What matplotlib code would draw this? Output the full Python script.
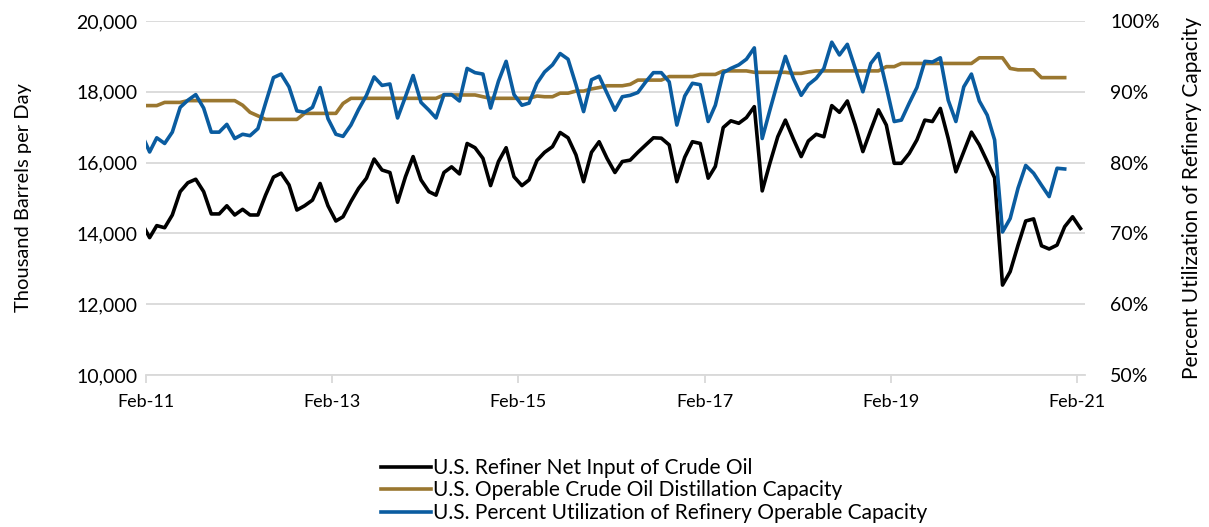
import numpy as np
import pandas as pd
import matplotlib
matplotlib.use("Agg")
import matplotlib.pyplot as plt
import matplotlib.dates as mdates
from matplotlib.ticker import FuncFormatter, FixedLocator

plt.rcParams['font.family'] = ['Lato', 'DejaVu Sans']

# monthly values, mid-month dates from Jan-11 (first point is clipped by the axis)
net_input = [14300, 13880, 14220, 14160, 14520, 15180, 15430, 15530, 15180, 14550,
             14550, 14780, 14520, 14680, 14520, 14520, 15080, 15590, 15700, 15370,
             14660, 14780, 14940, 15410, 14780, 14350, 14470, 14900, 15270, 15560,
             16100, 15790, 15720, 14880, 15600, 16170, 15510, 15180, 15080, 15720,
             15880, 15680, 16540, 16420, 16120, 15350, 16030, 16420, 15600, 15350,
             15510, 16060, 16290, 16450, 16850, 16700, 16220, 15460, 16290, 16590,
             16120, 15720, 16030, 16070, 16290, 16500, 16700, 16690, 16500, 15460,
             16150, 16590, 16540, 15560, 15890, 16990, 17180, 17110, 17270, 17580,
             15200, 15980, 16730, 17200, 16670, 16170, 16610, 16800, 16730, 17610,
             17420, 17740, 17060, 16310, 16920, 17490, 17060, 15980, 15980, 16260,
             16640, 17200, 17160, 17530, 16680, 15740, 16310, 16860, 16500, 16030,
             15570, 12540, 12920, 13670, 14350, 14410, 13650, 13560, 13670, 14190,
             14470, 14140]

capacity = [17610, 17610, 17610, 17700, 17700, 17700, 17750, 17750, 17750, 17750,
            17750, 17750, 17750, 17620, 17420, 17320, 17220, 17220, 17220, 17220,
            17220, 17390, 17390, 17390, 17390, 17390, 17670, 17815, 17815, 17815,
            17815, 17815, 17815, 17815, 17815, 17815, 17815, 17815, 17815, 17910,
            17910, 17910, 17910, 17910, 17860, 17815, 17815, 17815, 17815, 17815,
            17815, 17880, 17860, 17860, 17960, 17960, 18020, 18020, 18080, 18120,
            18170, 18170, 18170, 18210, 18330, 18330, 18330, 18330, 18430, 18430,
            18430, 18430, 18490, 18490, 18490, 18590, 18590, 18590, 18590, 18550,
            18550, 18550, 18550, 18550, 18520, 18520, 18560, 18590, 18590, 18590,
            18590, 18590, 18590, 18590, 18590, 18590, 18710, 18710, 18800, 18800,
            18800, 18800, 18800, 18800, 18800, 18800, 18800, 18800, 18960, 18960,
            18960, 18960, 18660, 18620, 18620, 18620, 18400, 18400, 18400, 18400]

utilization = [84.0, 81.5, 83.5, 82.7, 84.3, 87.8, 88.8, 89.6, 87.7, 84.3,
               84.3, 85.4, 83.4, 84.0, 83.8, 84.8, 88.4, 92.0, 92.5, 90.7,
               87.3, 87.1, 87.8, 90.6, 86.2, 84.0, 83.7, 85.3, 87.5, 89.5,
               92.1, 90.9, 91.1, 86.3, 89.3, 92.3, 88.5, 87.4, 86.3, 89.6,
               89.6, 88.7, 93.3, 92.7, 92.5, 87.7, 91.5, 94.3, 89.6, 88.1,
               88.4, 91.2, 92.8, 93.8, 95.4, 94.6, 91.0, 87.2, 91.7, 92.2,
               89.8, 87.4, 89.3, 89.5, 89.9, 91.4, 92.7, 92.7, 91.4, 85.3,
               89.4, 91.2, 91.0, 85.8, 88.1, 92.7, 93.3, 93.8, 94.6, 96.2,
               83.4, 87.4, 91.4, 95.0, 91.9, 89.5, 91.0, 91.9, 93.3, 97.0,
               95.2, 96.7, 93.3, 90.0, 94.0, 95.4, 90.7, 85.8, 86.0, 88.4,
               90.6, 94.3, 94.2, 94.8, 88.8, 85.8, 90.7, 92.5, 88.7, 86.7,
               83.2, 70.2, 72.1, 76.4, 79.6, 78.5, 76.8, 75.2, 79.2, 79.1]

dates_long = pd.date_range('2011-01-01', periods=len(net_input), freq='MS') + pd.Timedelta(days=14)
dates_short = dates_long[:len(capacity)]

tick_dates = pd.date_range('2011-02-01', '2021-02-01', freq='24MS')
tick_labels = [d.strftime('%b-%y') for d in tick_dates]

c_black = '#000000'
c_gold = '#9A7730'
c_blue = '#0A5CA0'
grid_c = '#D9D9D9'

fig = plt.figure(figsize=(12.09, 5.27), dpi=100)
ax = fig.add_axes([0.1208, 0.2884, 0.7767, 0.6718])
ax2 = ax.twinx()

l1, = ax.plot(dates_long, net_input, color=c_black, lw=2.6,
              label='U.S. Refiner Net Input of Crude Oil')
l2, = ax.plot(dates_short, capacity, color=c_gold, lw=2.6,
              label='U.S. Operable Crude Oil Distillation Capacity')
l3, = ax2.plot(dates_short, utilization, color=c_blue, lw=2.6,
               label='U.S. Percent Utilization of Refinery Operable Capacity')

ax.set_xlim(pd.Timestamp('2011-02-01'), pd.Timestamp('2021-03-05'))
ax.set_ylim(10000, 20000)
ax2.set_ylim(50, 100)
ax.set_yticks(np.arange(10000, 20001, 2000))
ax2.set_yticks(np.arange(50, 101, 10))
ax.yaxis.set_major_formatter(FuncFormatter(lambda v, p: f'{int(v):,}'))
ax2.yaxis.set_major_formatter(FuncFormatter(lambda v, p: f'{int(v)}%'))
ax.xaxis.set_major_locator(FixedLocator(mdates.date2num(tick_dates)))
ax.set_xticklabels(tick_labels)

ax.grid(axis='y', color=grid_c, lw=1.3)
ax.set_axisbelow(True)
for a in (ax, ax2):
    for s in ('top', 'right', 'left', 'bottom'):
        a.spines[s].set_visible(False)
ax.spines['bottom'].set_visible(True)
ax.spines['bottom'].set_color(grid_c)
ax.spines['bottom'].set_linewidth(1.3)

ax.tick_params(axis='x', length=6, width=1.3, color=grid_c, labelsize=13, pad=8)
ax.tick_params(axis='y', length=0, labelsize=14, pad=6)
ax2.tick_params(axis='y', length=0, labelsize=14, pad=18)

ax.set_ylabel('Thousand Barrels per Day', fontsize=14.5, labelpad=32)
ax2.set_ylabel('Percent Utilization of Refinery Capacity', fontsize=15, labelpad=16)

fig.legend(handles=[l1, l2, l3], loc='upper left', bbox_to_anchor=(0.308, 0.147),
           frameon=False, fontsize=15, handlelength=2.4, handletextpad=0.1,
           labelspacing=0.12, borderaxespad=0)

fig.savefig('out.png', dpi=100)
